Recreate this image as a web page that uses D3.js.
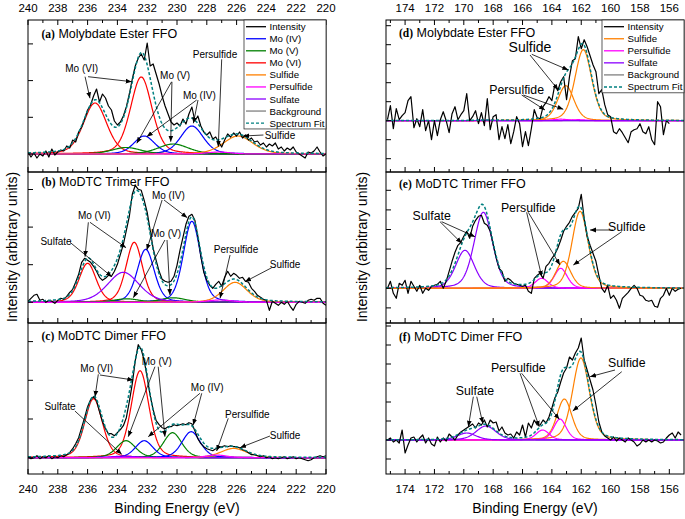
<!DOCTYPE html>
<html><head><meta charset="utf-8">
<script src="https://cdn.jsdelivr.net/npm/d3@7"></script>
<style>
body{margin:0;background:#fff;}
svg{display:block;font-family:"Liberation Sans",Arial,sans-serif;}
</style></head><body>
<svg id="chart" width="685" height="519"></svg>
<script>
// ---------------- DATA ----------------
const moTickLabels = [240,238,236,234,232,230,228,226,224,222,220];
const moMinorTicks = [239,237,235,233,231,229,227,225,223,221];
const sTickLabels = [174,172,170,168,166,164,162,160,158,156];
const sMinorTicks = [175,173,171,169,167,165,163,161,159,157,155];

const moEnergy = [240,239.8,239.6,239.4,239.2,239,238.8,238.6,238.4,238.2,238,237.8,237.6,237.4,237.2,237,236.8,236.6,236.4,236.2,236,235.8,235.6,235.4,235.2,235,234.8,234.6,234.4,234.2,234,233.8,233.6,233.4,233.2,233,232.8,232.6,232.4,232.2,232,231.8,231.6,231.4,231.2,231,230.8,230.6,230.4,230.2,230,229.8,229.6,229.4,229.2,229,228.8,228.6,228.4,228.2,228,227.8,227.6,227.4,227.2,227,226.8,226.6,226.4,226.2,226,225.8,225.6,225.4,225.2,225,224.8,224.6,224.4,224.2,224,223.8,223.6,223.4,223.2,223,222.8,222.6,222.4,222.2,222,221.8,221.6,221.4,221.2,221,220.8,220.6,220.4,220.2,220];
const sEnergy = [175.2,175,174.8,174.6,174.4,174.2,174,173.8,173.6,173.4,173.2,173,172.8,172.6,172.4,172.2,172,171.8,171.6,171.4,171.2,171,170.8,170.6,170.4,170.2,170,169.8,169.6,169.4,169.2,169,168.8,168.6,168.4,168.2,168,167.8,167.6,167.4,167.2,167,166.8,166.6,166.4,166.2,166,165.8,165.6,165.4,165.2,165,164.8,164.6,164.4,164.2,164,163.8,163.6,163.4,163.2,163,162.8,162.6,162.4,162.2,162,161.8,161.6,161.4,161.2,161,160.8,160.6,160.4,160.2,160,159.8,159.6,159.4,159.2,159,158.8,158.6,158.4,158.2,158,157.8,157.6,157.4,157.2,157,156.8,156.6,156.4,156.2,156,155.8,155.6,155.4,155.2];

// Measured intensity (arbitrary units, background = 0)
const intensityA = [2,-3,1,-4,0,-2,3,-3,5,-1,2,4,3,8,6,14,12,22,27,35,44,49,58,65,52,60,56,48,44,33,29,32,38,47,60,75,88,96,100,94,111,88,90,80,70,58,48,40,32,29,31,28,35,30,40,47,33,38,28,22,19,22,15,17,12,7,14,20,17,21,18,22,16,19,14,16,12,13,9,11,7,10,8,11,5,7,3,6,4,7,2,0,-2,-4,2,1,3,7,2,-2,0];
const intensityB = [1,4,7,8,2,3,0,2,1,-1,2,4,3,6,10,13,20,28,40,44,42,40,36,31,25,22,24,27,26,31,38,48,58,72,86,108,117,113,112,102,90,72,54,42,31,23,21,20,21,26,37,52,65,78,86,88,82,66,46,30,22,17,14,18,21,16,25,31,26,29,27,24,25,21,20,14,11,7,5,3,2,-8,1,-1,-3,0,-2,1,-4,-8,-2,1,0,-1,2,3,2,4,4,-1,-3];
const intensityC = [1,-1,0,2,-1,1,0,2,-1,1,0,2,1,3,5,9,14,20,30,40,51,58,61,57,46,36,29,24,24,22,25,28,32,40,56,74,97,113,108,97,80,62,48,37,33,30,29,31,31,33,32,33,34,33,35,34,27,19,14,11,9,8,7,9,10,11,12,11,12,11,11,10,8,7,5,3,3,2,1,2,0,1,-1,0,-1,0,1,-1,0,1,-1,0,-1,-2,-3,-2,0,1,2,1,2];
const intensityD = [1,15,-8,12,1,5,8,20,24,-7,2,-6,11,-10,0,-19,0,-15,1,9,0,-12,7,14,1,6,10,27,0,4,10,-3,8,-5,22,-9,4,6,-19,-6,-18,-4,-23,-11,4,-3,-26,-11,-25,-8,11,3,2,14,18,24,20,36,30,39,44,21,44,60,62,84,72,81,74,65,56,49,27,31,16,6,4,-11,-13,-8,-12,-17,-22,-11,-9,-8,-3,-11,-13,-6,-19,-24,19,14,-14,0,-3];
const intensityE = [0,7,-5,-10,5,3,8,-5,7,2,-3,3,-5,0,-2,2,3,4,7,0,7,17,27,36,43,46,52,57,50,62,68,72,73,65,63,57,44,31,20,17,7,10,8,5,4,3,2,3,-3,-5,10,13,15,10,22,25,30,34,40,48,57,62,66,72,76,80,94,70,52,43,35,27,13,0,-4,3,-10,-7,-12,-20,-10,-7,-4,0,3,0,-7,-8,-12,-13,-12,-18,-19,-10,-7,0,-7,0,-3,-1,0];
const intensityF = [0,2,-2,0,-3,10,-13,-5,2,3,-2,2,5,-3,2,-4,-6,3,-2,2,-1,6,3,0,5,8,10,12,14,16,12,17,15,20,13,20,17,18,9,13,7,5,6,2,8,5,15,3,17,12,20,15,15,20,17,23,32,42,48,58,67,72,83,80,87,92,102,80,70,60,50,35,18,8,4,2,0,3,-1,2,0,-2,2,0,-2,-6,-4,0,-2,0,-2,0,-1,-3,-2,2,5,7,2,8,5];

// Fitted components: [component, centre (eV), height, FWHM (eV)]
const peaksA = [["Mo (VI)",235.5,51,1.85],["Mo (VI)",232.4,77,1.7],["Mo (IV)",232.2,18,1.65],["Mo (IV)",229.0,28,1.8],["Mo (V)",233.4,6.5,2.3],["Mo (V)",230.25,10,2.4],["Sulfide",225.9,18,2.35],["Persulfide",227.2,2,1.8]];
const peaksB = [["Mo (VI)",236.0,39,1.35],["Mo (VI)",232.87,60,1.3],["Mo (IV)",232.1,53,1.35],["Mo (IV)",229.0,81,1.35],["Mo (V)",233.38,3.5,2.0],["Mo (V)",230.25,4.5,2.0],["Sulfate",233.6,30,2.5],["Sulfide",226.1,20,1.9],["Persulfide",227.1,2.3,2.0]];
const peaksC = [["Mo (VI)",235.6,59,1.4],["Mo (VI)",232.48,87,1.4],["Mo (V)",233.42,17,1.5],["Mo (V)",230.3,25,1.45],["Mo (IV)",232.2,17,1.4],["Mo (IV)",229.05,26,1.45],["Sulfate",233.6,1.5,2.0],["Sulfide",226.2,9.3,2.05],["Persulfide",227.35,2.7,1.6]];
const peaksD = [["Sulfide",161.86,71,1.35],["Sulfide",163.05,35,1.3],["Persulfide",163.4,1.5,1.3],["Persulfide",162.2,1.0,1.3],["Sulfate",168.5,0.4,1.5]];
const peaksE = [["Sulfate",168.67,76,1.5],["Sulfate",169.92,38,1.5],["Persulfide",163.4,20,1.05],["Persulfide",164.7,10,1.05],["Sulfide",162.08,77,1.3],["Sulfide",163.22,27,1.2]];
const peaksF = [["Sulfide",162.02,82,1.35],["Sulfide",163.15,41,1.2],["Persulfide",163.45,21,1.0],["Persulfide",164.63,10,1.05],["Sulfate",168.49,14,1.6],["Sulfate",169.8,7,1.5]];

const moLegend = ["Intensity","Mo (IV)","Mo (V)","Mo (VI)","Sulfide","Persulfide","Sulfate","Background","Spectrum Fit"];
const sLegend = ["Intensity","Sulfide","Persulfide","Sulfate","Background","Spectrum Fit"];

const panelTitles = [["(a)","Molybdate Ester FFO"],["(b)","MoDTC Trimer FFO"],["(c)","MoDTC Dimer FFO"],["(d)","Molybdate Ester FFO"],["(e)","MoDTC Trimer FFO"],["(f)","MoDTC Dimer FFO"]];

// Annotations in data coordinates: label centre [eV, value], arrows [eV0,v0,eV1,v1]
const annA = [
 {t:"Mo (VI)", at:[236.4,85.7], arrows:[[236.17,77.3,235.84,55.7],[235.97,77.3,233.04,72.3]]},
 {t:"Mo (V)", at:[230.13,79], arrows:[[230.36,72.3,232.7,10.7],[230.34,72,230.42,12.3]]},
 {t:"Mo (IV)", at:[228.5,59], arrows:[[228.68,54,232.03,17.3],[228.59,54,228.9,30.7]]},
 {t:"Persulfide", at:[227.45,100], arrows:[[227.0,94.7,227.23,7.3]]},
 {t:"Sulfide", at:[223.09,19], arrows:[[224.2,19,225.55,18]]}];
const annB = [
 {t:"Sulfate", at:[238.12,60.6], arrows:[[237.18,60,234.38,25.6]]},
 {t:"Mo (VI)", at:[235.55,86.6], arrows:[[235.95,80,236.17,45.6],[235.84,80,233.42,54.6]]},
 {t:"Mo (IV)", at:[230.58,107.3], arrows:[[231.0,102.3,232.03,52.3],[230.87,102.3,229.31,84.6]]},
 {t:"Mo (V)", at:[230.74,69], arrows:[[230.81,62.3,232.93,4.6],[230.67,62.3,230.47,7.3]]},
 {t:"Persulfide", at:[226.04,53.3], arrows:[[226.44,47.3,227.11,4]]},
 {t:"Sulfide", at:[222.75,38], arrows:[[223.64,34.6,225.44,20.6]]}];
const annC = [
 {t:"Mo (VI)", at:[235.39,89.4], arrows:[[235.28,83.4,235.5,61],[235.17,82.7,232.93,77.7]]},
 {t:"Mo (V)", at:[231.36,96.7], arrows:[[231.48,91,233.27,21],[231.26,91,230.81,21]]},
 {t:"Mo (IV)", at:[227.97,70], arrows:[[228.46,64.4,231.93,21],[228.34,64.4,228.91,32.7]]},
 {t:"Sulfate", at:[237.85,51.7], arrows:[[236.85,46.7,233.71,3.4]]},
 {t:"Persulfide", at:[225.28,43.4], arrows:[[226.56,39.4,227.34,6.7]]},
 {t:"Sulfide", at:[222.75,22.7], arrows:[[223.76,21.7,225.77,10]]}];
const annD = [
 {t:"Sulfide", big:true, at:[165.49,74.0], arrows:[[165.37,66.4,162.88,50.7],[165.49,65.7,163.56,30.7]]},
 {t:"Persulfide", at:[166.40,30.7], arrows:[[166.06,25.7,164.47,10.7],[165.95,25.7,163.22,11.4]]}];
const annE = [
 {t:"Sulfate", at:[172.19,72.6], arrows:[[171.62,66.6,170.14,45],[171.51,66.6,169.24,51.6]]},
 {t:"Persulfide", at:[165.61,80.6], arrows:[[165.72,76,164.69,11.6],[165.61,76,163.45,23.3]]},
 {t:"Sulfide", at:[158.90,61.6], arrows:[[159.82,58.3,161.40,58.3],[159.24,56.6,162.54,23.3]]}];
const annF = [
 {t:"Sulfate", at:[169.24,49], arrows:[[169.35,43.3,169.69,13.3],[169.12,43.3,168.71,16.7]]},
 {t:"Persulfide", at:[166.29,72.3], arrows:[[166.17,66.7,164.86,13.3],[166.06,66.7,163.49,20.7]]},
 {t:"Sulfide", at:[158.90,76.7], arrows:[[159.70,70,161.40,63.3],[159.24,68.3,162.58,29]]}];

// ---------------- STYLE / LAYOUT ----------------
const colors = {"Intensity":"#000000","Mo (IV)":"#0000ff","Mo (V)":"#008000","Mo (VI)":"#ff0000","Sulfide":"#ff8000","Persulfide":"#ff00ff","Sulfate":"#8b00ff","Background":"#808080","Spectrum Fit":"#008080"};
const cols = [
 {x0:28, x1:326, domain:[240,220], energy:moEnergy, ticks:moTickLabels, minor:moMinorTicks, legend:moLegend, annSize:10, titleX:41.5, ytitleX:12, xtitleX:177, ystep:[36.7,37.6,38.7]},
 {x0:386, x1:684, domain:[175.3,155], energy:sEnergy, ticks:sTickLabels, minor:sMinorTicks, legend:sLegend, annSize:12.3, titleX:399, ytitleX:362, xtitleX:535, ystep:[19,19.6,19]}
];
const rows = [[20,172],[172,323],[323,474]];
const panels = [
 {c:0,r:0,y:[-18,134],data:intensityA,peaks:peaksA,ann:annA,tb:37.5},
 {c:0,r:1,y:[-20.7,130.3],data:intensityB,peaks:peaksB,ann:annB,tb:185.5},
 {c:0,r:2,y:[-16.3,134.7],data:intensityC,peaks:peaksC,ann:annC,tb:339.5},
 {c:1,r:0,y:[-51.3,100.7],data:intensityD,peaks:peaksD,ann:annD,tb:36.5},
 {c:1,r:1,y:[-34.7,116.3],data:intensityE,peaks:peaksE,ann:annE,tb:187.8},
 {c:1,r:2,y:[-34,117],data:intensityF,peaks:peaksF,ann:annF,tb:340.5}
];

function gl(e, c, h, w){ const d=(e-c)/w; return h*(0.7*Math.exp(-4*Math.LN2*d*d) + 0.3/(1+4*d*d)); }

const svg = d3.select("#chart");
const defs = svg.append("defs");
defs.append("marker").attr("id","arr").attr("viewBox","0 0 10 10").attr("refX",10).attr("refY",5)
  .attr("markerWidth",6).attr("markerHeight",6).attr("markerUnits","userSpaceOnUse").attr("orient","auto")
  .append("path").attr("d","M0,1 L10,5 L0,9 z").attr("fill","#000");

panels.forEach((p,pi)=>{
  const col = cols[p.c], row = rows[p.r];
  const x = d3.scaleLinear().domain(col.domain).range([col.x0,col.x1]);
  const y = d3.scaleLinear().domain(p.y).range([row[1],row[0]]);
  const clipId = "clip"+pi;
  defs.append("clipPath").attr("id",clipId).append("rect")
    .attr("x",col.x0).attr("y",row[0]).attr("width",col.x1-col.x0).attr("height",row[1]-row[0]);
  const g = svg.append("g");
  const plot = g.append("g").attr("clip-path",`url(#${clipId})`);
  const grid = d3.range(col.domain[0], col.domain[1]-0.001, -0.04);
  const line = d3.line().x(d=>x(d[0])).y(d=>y(d[1]));
  // background
  plot.append("path").attr("d",line([[col.domain[0],0],[col.domain[1],0]]))
    .attr("fill","none").attr("stroke",colors["Background"]).attr("stroke-width",1.2);
  // components
  p.peaks.forEach(pk=>{
    plot.append("path").attr("d",line(grid.map(e=>[e,gl(e,pk[1],pk[2],pk[3])])))
      .attr("fill","none").attr("stroke",colors[pk[0]]).attr("stroke-width",1.2);
  });
  // intensity
  plot.append("path").attr("d",line(p.data.map((v,i)=>[col.energy[i],v])))
    .attr("fill","none").attr("stroke","#000").attr("stroke-width",1.2).attr("stroke-linejoin","round");
  // spectrum fit
  plot.append("path").attr("d",line(grid.map(e=>[e,d3.sum(p.peaks,pk=>gl(e,pk[1],pk[2],pk[3]))])))
    .attr("fill","none").attr("stroke",colors["Spectrum Fit"]).attr("stroke-width",1.5).attr("stroke-dasharray","3,2");

  // frame
  g.append("rect").attr("x",col.x0).attr("y",row[0]).attr("width",col.x1-col.x0).attr("height",row[1]-row[0])
    .attr("fill","none").attr("stroke","#000").attr("stroke-width",1);
  // x ticks (bottom, inward)
  const tk = g.append("g").attr("stroke","#000").attr("stroke-width",1);
  col.ticks.forEach(t=>tk.append("line").attr("x1",x(t)).attr("x2",x(t)).attr("y1",row[1]).attr("y2",row[1]-5));
  col.minor.forEach(t=>{ if(x(t)>col.x0+1 && x(t)<col.x1-1) tk.append("line").attr("x1",x(t)).attr("x2",x(t)).attr("y1",row[1]).attr("y2",row[1]-3);});
  if(p.r===0){
    col.ticks.forEach(t=>tk.append("line").attr("x1",x(t)).attr("x2",x(t)).attr("y1",row[0]).attr("y2",row[0]+5));
    col.minor.forEach(t=>{ if(x(t)>col.x0+1 && x(t)<col.x1-1) tk.append("line").attr("x1",x(t)).attr("x2",x(t)).attr("y1",row[0]).attr("y2",row[0]+3);});
    g.append("g").selectAll("text").data(col.ticks).join("text")
      .attr("x",d=>x(d)).attr("y",12).attr("text-anchor","middle").attr("font-size",11.5).text(d=>d);
  }
  if(p.r===2){
    g.append("g").selectAll("text").data(col.ticks).join("text")
      .attr("x",d=>x(d)).attr("y",493).attr("text-anchor","middle").attr("font-size",11.5).text(d=>d);
  }
  // y ticks (left, inward)
  const st = col.ystep[p.r];
  for(let k=Math.ceil(p.y[0]/st); k*st<p.y[1]; k++){
    const yy = y(k*st);
    if(yy>row[0]+2 && yy<row[1]-2) tk.append("line").attr("x1",col.x0).attr("x2",col.x0+5).attr("y1",yy).attr("y2",yy);
  }
  // title
  const tt = g.append("text").attr("x",col.titleX).attr("y",p.tb);
  tt.append("tspan").attr("font-family","'Liberation Serif','Times New Roman',serif").attr("font-weight","bold").attr("font-size",11.5).text(panelTitles[pi][0]);
  tt.append("tspan").attr("font-size",12.5).text(" "+panelTitles[pi][1]);
  // annotations
  p.ann.forEach(a=>{
    a.arrows.forEach(ar=>{
      g.append("line").attr("x1",x(ar[0])).attr("y1",y(ar[1])).attr("x2",x(ar[2])).attr("y2",y(ar[3]))
        .attr("stroke","#000").attr("stroke-width",0.8).attr("marker-end","url(#arr)");
    });
    g.append("text").attr("x",x(a.at[0])).attr("y",y(a.at[1])).attr("text-anchor","middle")
      .attr("dominant-baseline","central").attr("font-size",a.big?14:col.annSize).text(a.t);
  });
  // legend
  if(p.r===0){
    const lx = col.x1-82, ly = row[0];
    const n = col.legend.length;
    const lg = g.append("g");
    lg.append("rect").attr("x",lx).attr("y",ly).attr("width",82).attr("height",n*12.05+0.5)
      .attr("fill","#fff").attr("stroke","#333").attr("stroke-width",0.8);
    col.legend.forEach((name,i)=>{
      const yy = ly+6.7+i*12.05;
      lg.append("line").attr("x1",lx+2).attr("x2",lx+22).attr("y1",yy).attr("y2",yy)
        .attr("stroke",colors[name]).attr("stroke-width",name==="Spectrum Fit"?1.4:1.3)
        .attr("stroke-dasharray",name==="Spectrum Fit"?"3,2":null);
      lg.append("text").attr("x",lx+25.5).attr("y",yy).attr("dominant-baseline","central")
        .attr("font-size",9.7).text(name);
    });
  }
});

// axis titles
cols.forEach(col=>{
  svg.append("text").attr("x",col.xtitleX).attr("y",513).attr("text-anchor","middle").attr("font-size",14).text("Binding Energy (eV)");
  svg.append("text").attr("transform",`translate(${col.ytitleX+5},247) rotate(-90)`).attr("text-anchor","middle").attr("font-size",14).text("Intensity (arbitrary units)");
});
</script>
</body></html>
